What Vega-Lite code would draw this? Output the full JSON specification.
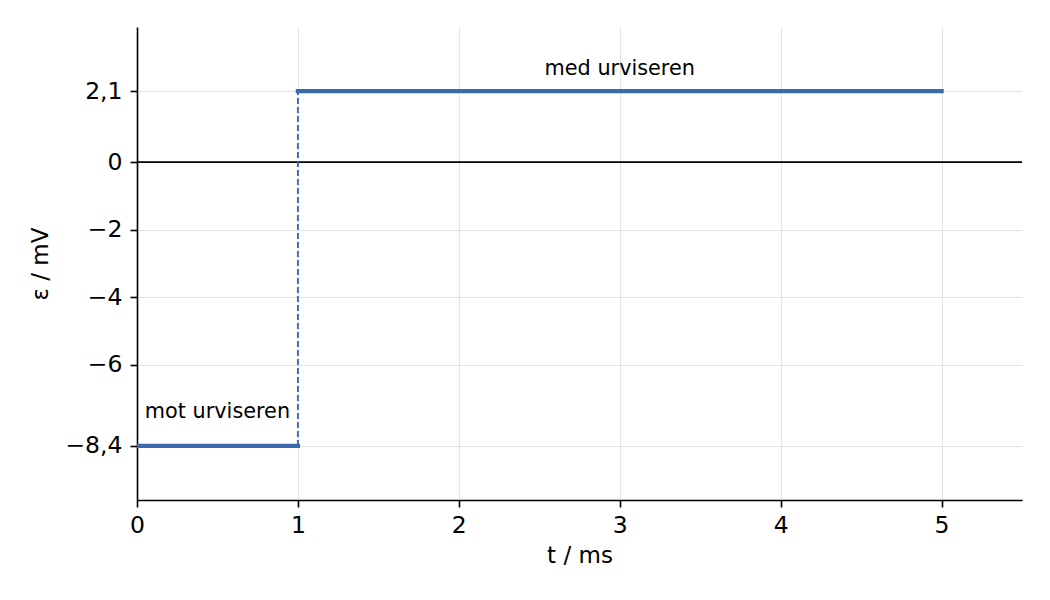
{
  "$schema": "https://vega.github.io/schema/vega-lite/v6.json",
  "width": 885,
  "height": 473,
  "autosize": {"type": "none"},
  "padding": {"left": 137, "top": 27, "right": 28, "bottom": 100},
  "background": "white",
  "view": {"stroke": null},
  "config": {
    "font": "DejaVu Sans",
    "axis": {
      "domainColor": "black",
      "domainWidth": 1.6,
      "tickColor": "black",
      "tickWidth": 1.6,
      "tickSize": 7,
      "labelFont": "DejaVu Sans",
      "labelFontSize": 23.5,
      "labelColor": "black",
      "labelFlush": false,
      "labelOverlap": false,
      "titleFont": "DejaVu Sans",
      "titleFontSize": 23,
      "titleFontWeight": "normal",
      "titleColor": "black",
      "gridColor": "#e3e3e3",
      "gridWidth": 1.2
    }
  },
  "encoding": {
    "x": {
      "field": "t",
      "type": "quantitative",
      "scale": {"domain": [0, 5.5], "nice": false, "zero": false},
      "axis": {
        "title": "t / ms",
        "values": [0, 1, 2, 3, 4, 5],
        "format": "d",
        "labelPadding": 6,
        "titlePadding": 8,
        "grid": true
      }
    },
    "y": {
      "field": "e",
      "type": "quantitative",
      "scale": {"domain": [-10, 4], "nice": false, "zero": false},
      "axis": {
        "title": "ε / mV",
        "values": [-8.4, -6, -4, -2, 0, 2.1],
        "labelExpr": "replace(format(datum.value, '~g'), '.', ',')",
        "labelPadding": 8,
        "titlePadding": 12,
        "grid": true
      }
    }
  },
  "layer": [
    {
      "data": {"values": [{"t": 0, "t2": 5.5, "e": 0}]},
      "mark": {"type": "rule", "color": "black", "strokeWidth": 1.6},
      "encoding": {"x2": {"field": "t2"}}
    },
    {
      "data": {"values": [{"t": 1, "e": -8.4, "e2": 2.1}]},
      "mark": {"type": "rule", "color": "#3a6aaa", "strokeWidth": 1.9, "strokeDash": [6, 3]},
      "encoding": {"y2": {"field": "e2"}}
    },
    {
      "data": {
        "values": [
          {"t": 0, "t2": 1, "e": -8.4},
          {"t": 1, "t2": 5, "e": 2.1}
        ]
      },
      "mark": {"type": "rule", "color": "#3a6aaa", "strokeWidth": 4.3, "strokeCap": "square", "clip": true},
      "encoding": {"x2": {"field": "t2"}}
    },
    {
      "data": {
        "values": [
          {"t": 0.5, "e": -7.4, "label": "mot urviseren"},
          {"t": 3, "e": 2.75, "label": "med urviseren"}
        ]
      },
      "mark": {"type": "text", "fontSize": 20.8, "color": "black", "align": "center", "baseline": "middle"},
      "encoding": {"text": {"field": "label"}}
    }
  ]
}
